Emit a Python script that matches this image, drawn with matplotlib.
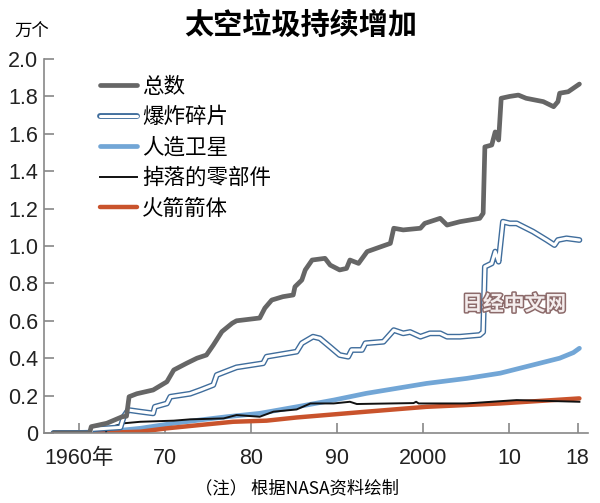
import matplotlib
matplotlib.use('Agg')
import matplotlib.pyplot as plt
import matplotlib.patheffects as pe

plt.rcParams['font.family'] = ['Noto Sans CJK SC', 'DejaVu Sans']
NUM_FONT = ['Liberation Sans Narrow', 'Liberation Sans', 'Noto Sans CJK SC']

# values in 万个 (10,000 objects)
total_years = [1957, 1961.2, 1961.4, 1963.2, 1965.0, 1965.5, 1965.8, 1966.7, 1968.6, 1970.2,
               1971.0, 1972.5, 1973.7, 1974.8, 1975.6, 1976.6, 1977.8, 1978.3, 1981.0, 1981.6,
               1982.4, 1983.7, 1984.9, 1985.1, 1985.9, 1986.3, 1987.1, 1988.6, 1989.2, 1990.3,
               1991.1, 1991.5, 1992.5, 1993.5, 1994.6, 1996.2, 1996.6, 1997.7, 1999.7, 2000.2,
               2002.0, 2002.8, 2004.3, 2006.6, 2007.0, 2007.2, 2008.0, 2008.4, 2008.8, 2009.1,
               2010.1, 2011.1, 2012.0, 2014.0, 2015.2, 2015.7, 2015.9, 2016.9, 2018.2]
total_vals = [0, 0, 0.034, 0.052, 0.087, 0.09, 0.194, 0.21, 0.23, 0.274,
              0.337, 0.373, 0.40, 0.417, 0.47, 0.542, 0.587, 0.60, 0.615, 0.668,
              0.711, 0.729, 0.738, 0.782, 0.818, 0.872, 0.925, 0.934, 0.898, 0.872,
              0.88, 0.925, 0.907, 0.97, 0.988, 1.014, 1.095, 1.086, 1.095, 1.121,
              1.148, 1.112, 1.13, 1.148, 1.175, 1.53, 1.54, 1.61, 1.567, 1.79,
              1.80, 1.807, 1.79, 1.772, 1.745, 1.772, 1.817, 1.825, 1.866]

frag_years = [1957, 1961.3, 1961.5, 1964.8, 1965.2, 1965.7, 1967.1, 1968.6, 1968.8, 1970.2,
              1970.6, 1972.9, 1974.1, 1975.6, 1976.0, 1977.0, 1978.3, 1981.4, 1981.8, 1985.3,
              1985.9, 1987.2, 1988.0, 1989.2, 1990.3, 1991.3, 1991.7, 1992.9, 1993.3, 1995.4,
              1996.6, 1997.7, 1998.5, 1999.7, 2000.8, 2002.0, 2002.8, 2004.3, 2006.6, 2007.0,
              2007.2, 2008.0, 2008.4, 2008.8, 2009.3, 2010.1, 2010.9, 2012.8, 2014.4, 2015.3,
              2015.7, 2016.7, 2018.2]
frag_vals = [0, 0, 0.02, 0.03, 0.09, 0.123, 0.114, 0.105, 0.14, 0.158,
             0.194, 0.21, 0.23, 0.257, 0.31, 0.328, 0.351, 0.373, 0.408, 0.435,
             0.48, 0.515, 0.506, 0.46, 0.417, 0.408, 0.444, 0.444, 0.48, 0.488,
             0.55, 0.533, 0.54, 0.515, 0.533, 0.533, 0.515, 0.515, 0.524, 0.54,
             0.889, 0.907, 0.97, 0.916, 1.13, 1.121, 1.121, 1.077, 1.032, 1.005,
             1.032, 1.041, 1.032]

sat_years = [1957, 1960, 1963.2, 1967.1, 1971, 1974.1, 1977.2, 1981, 1985.3, 1989.6,
             1993.4, 2000.4, 2005.1, 2009, 2012.8, 2015.9, 2017.5, 2018.2]
sat_vals = [0, 0.003, 0.007, 0.025, 0.052, 0.07, 0.087, 0.105, 0.14, 0.176,
            0.212, 0.265, 0.292, 0.32, 0.364, 0.40, 0.43, 0.453]

debris_years = [1963.1, 1963.2, 1965.2, 1967.1, 1971, 1972.9, 1976.8, 1978.3, 1981, 1982.6,
                1985.3, 1986.9, 1989.6, 1991.5, 1992.3, 1998.9, 1999.2, 1999.5, 2005.1, 2010.9,
                2018.2]
debris_vals = [0, 0.025, 0.052, 0.06, 0.066, 0.073, 0.078, 0.096, 0.087, 0.114,
               0.126, 0.158, 0.158, 0.167, 0.155, 0.16, 0.167, 0.158, 0.158, 0.176,
               0.167]

rocket_years = [1957, 1962.4, 1967.1, 1970.2, 1974.1, 1977.9, 1981.8, 1985.3, 1993.4, 2000.4,
                2009, 2018.2]
rocket_vals = [0, 0, 0.007, 0.025, 0.043, 0.06, 0.066, 0.083, 0.114, 0.14,
               0.158, 0.185]

tick_years = [1960, 1970, 1980, 1990, 2000, 2010, 2018]
tick_labels = ['1960年', '70', '80', '90', '2000', '10', '18']
y_ticks = [0, 0.2, 0.4, 0.6, 0.8, 1.0, 1.2, 1.4, 1.6, 1.8, 2.0]
y_labels = ['0', '0.2', '0.4', '0.6', '0.8', '1.0', '1.2', '1.4', '1.6', '1.8', '2.0']

fig = plt.figure(figsize=(6, 5.03), dpi=100)
ax = fig.add_axes([44/600, 1-433/503, 544/600, 374/503])

ax.plot(sat_years, sat_vals, color='#72a6d6', lw=3.4, solid_joinstyle='round',
        solid_capstyle='round', label='人造卫星')
ax.plot(rocket_years, rocket_vals, color='#c9532c', lw=3.2, solid_capstyle='round', label='火箭箭体')
ax.plot(debris_years, debris_vals, color='#111111', lw=1.4, label='掉落的零部件')
ax.plot(frag_years, frag_vals, color='white', lw=2.2, solid_capstyle='round', label='爆炸碎片',
        path_effects=[pe.Stroke(linewidth=4.2, foreground='#3f6d9c', capstyle='round'), pe.Normal()])
ax.plot(total_years, total_vals, color='#666666', lw=3.4, solid_capstyle='round', label='总数')

ax.set_xlim(1955.9, 2019.2)
ax.set_ylim(0, 2.0)
for s in ['top', 'right']:
    ax.spines[s].set_visible(False)
for s in ['left', 'bottom']:
    ax.spines[s].set_color('#888888')
    ax.spines[s].set_linewidth(1.2)
ax.set_xticks(tick_years)
ax.set_xticklabels(tick_labels, family=NUM_FONT, fontsize=15.5)
ax.set_yticks(y_ticks)
ax.set_yticklabels(y_labels, family=NUM_FONT, fontsize=15.5)
ax.tick_params(axis='both', direction='in', length=7, width=1.2, color='#888888', labelcolor='#222222')
ax.tick_params(axis='y', pad=4)
ax.tick_params(axis='x', pad=11)

handles, labels = ax.get_legend_handles_labels()
order = [4, 3, 0, 2, 1]
ax.legend([handles[i] for i in order], [labels[i] for i in order],
          loc='upper left', bbox_to_anchor=(100/600, 1-76/503), bbox_transform=fig.transFigure,
          frameon=False, fontsize=15.5, handlelength=1.7, handletextpad=0.25,
          labelspacing=0.39, borderpad=0, borderaxespad=0)

fig.text(301/600, 1-25/503, '太空垃圾持续增加', ha='center', va='center', fontsize=21, fontweight='bold')
fig.text(14/600, 1-32/503, '万个', ha='left', va='center', fontsize=12.5)
fig.text(195/600, 1-488/503, '（注） 根据NASA资料绘制', ha='left', va='center', fontsize=12.5)
fig.text(462/600, 1-304/503, '日经中文网', ha='left', va='center', fontsize=15, fontweight='bold',
         color='#f4eded', path_effects=[pe.withStroke(linewidth=2.2, foreground='#8c6a6a')])

fig.savefig('out.png', dpi=100)
